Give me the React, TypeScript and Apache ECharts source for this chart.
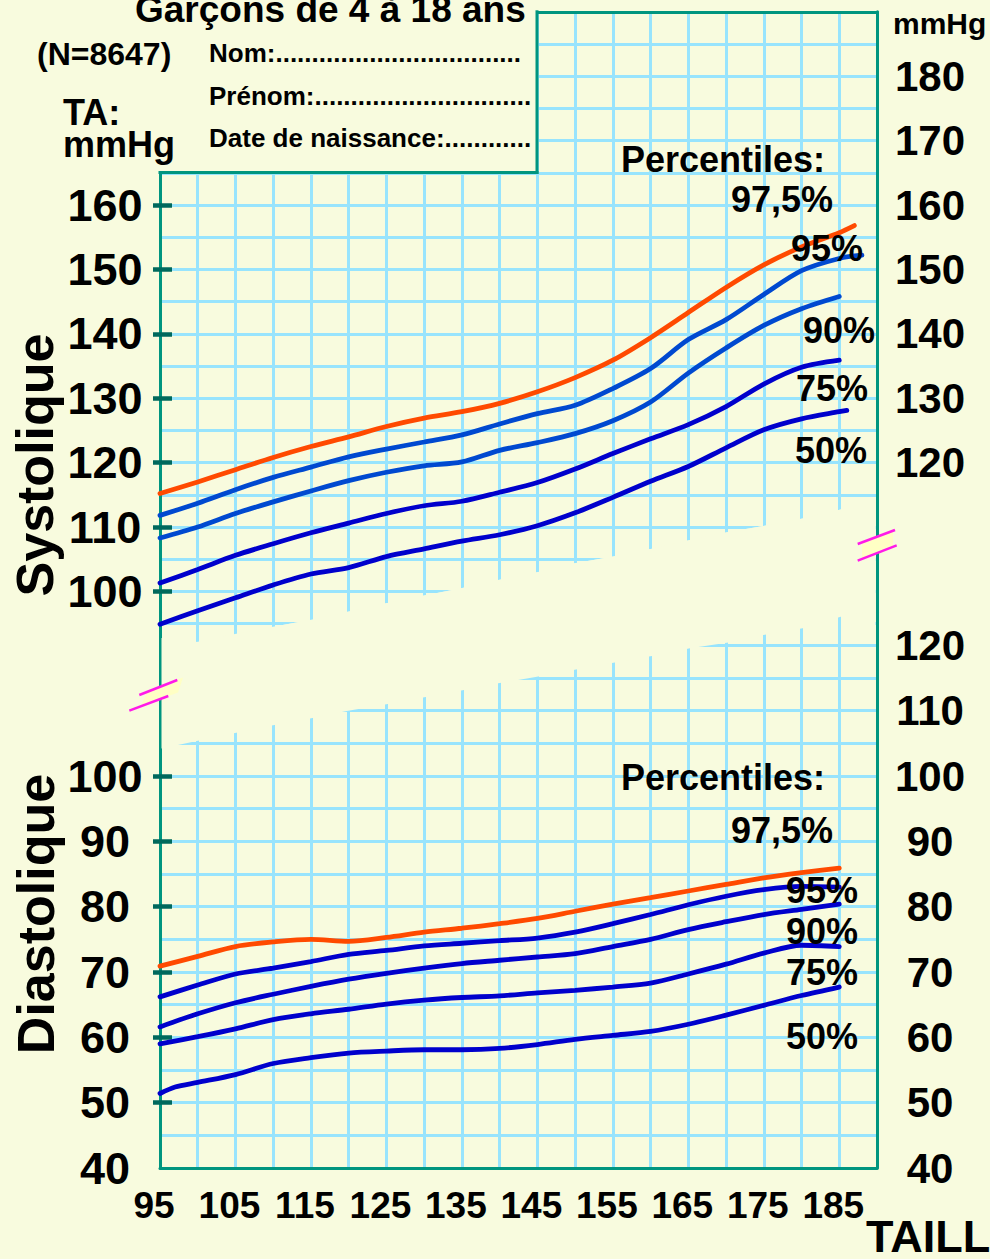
import React, { useEffect, useRef } from "react";
import * as echarts from "echarts";

const BG = "#F8FBDE";
const GRIDLINE = "#98E4FD";
const BORDER = "#00957F";
const TICK = "#00695C";
const ORANGE = "#FF4A00";
const MIDBLUE = "#0049D0";
const DARKBLUE = "#0000CC";
const MAGENTA = "#FF1AE8";
const PATCH = "#FFFFC4";
const FONT = '"Liberation Sans", Arial, Helvetica, sans-serif';

// Height (cm) grid for the curves
const heightsCm = [95, 100, 105, 110, 115, 120, 125, 130, 135, 140, 145, 150, 155, 160, 165, 170, 175, 180, 185];

// Systolic percentiles (mmHg)
const sysP975H = [...heightsCm, 187];
const sysP975 = [115.2, 117.0, 118.9, 120.8, 122.5, 124.0, 125.6, 126.9, 127.9, 129.2, 131.0, 133.2, 135.9, 139.4, 143.3, 147.2, 150.7, 153.5, 155.7, 156.8];
const sysP95H = [...heightsCm, 188];
const sysP95 = [111.8, 113.7, 115.8, 117.7, 119.3, 120.9, 122.1, 123.2, 124.3, 126.0, 127.6, 128.9, 131.5, 134.6, 139.1, 142.2, 146.1, 149.8, 151.7, 152.2];
const sysP90H = heightsCm;
const sysP90 = [108.3, 110.0, 112.1, 113.9, 115.6, 117.2, 118.5, 119.5, 120.1, 121.9, 123.1, 124.5, 126.5, 129.4, 133.9, 137.8, 141.3, 143.9, 145.8];
const sysP75H = heightsCm;
const sysP75 = [101.3, 103.4, 105.6, 107.4, 109.1, 110.6, 112.1, 113.3, 114.0, 115.4, 116.9, 119.0, 121.4, 123.7, 125.9, 128.7, 132.2, 134.8, 135.9];
const sysP50H = [...heightsCm, 186];
const sysP50 = [94.9, 97.0, 99.0, 101.0, 102.7, 103.7, 105.4, 106.6, 107.8, 108.8, 110.2, 112.2, 114.6, 117.1, 119.4, 122.3, 125.1, 126.8, 127.9, 128.1];

// Diastolic percentiles (mmHg)
const diaP975H = heightsCm;
const diaP975 = [70.9, 72.4, 73.9, 74.6, 75.0, 74.7, 75.3, 76.1, 76.7, 77.4, 78.2, 79.3, 80.4, 81.4, 82.4, 83.4, 84.4, 85.2, 85.9];
const diaP95H = heightsCm;
const diaP95 = [66.2, 68.0, 69.7, 70.6, 71.6, 72.7, 73.3, 74.0, 74.4, 74.8, 75.2, 76.1, 77.4, 78.8, 80.3, 81.6, 82.6, 83.1, 83.0];
const diaP90H = heightsCm;
const diaP90 = [61.6, 63.6, 65.3, 66.6, 67.8, 68.9, 69.8, 70.6, 71.3, 71.8, 72.3, 72.8, 73.9, 75.0, 76.5, 77.7, 78.8, 79.6, 80.4];
const diaP75H = heightsCm;
const diaP75 = [59.0, 60.1, 61.3, 62.7, 63.6, 64.3, 65.1, 65.7, 66.1, 66.35, 66.8, 67.2, 67.7, 68.3, 69.7, 71.2, 72.9, 74.1, 73.9];
const diaP50H = [95, 97, 100, 105, 110, 115, 120, 125, 130, 135, 140, 145, 150, 155, 160, 165, 170, 175, 180, 185];
const diaP50 = [51.4, 52.4, 53.1, 54.3, 56.0, 56.9, 57.6, 57.9, 58.1, 58.1, 58.3, 58.9, 59.7, 60.3, 60.9, 62.0, 63.4, 64.9, 66.4, 67.7];

// Tick labels
const xTickLabels = [95, 105, 115, 125, 135, 145, 155, 165, 175, 185];
const sysLeftLabels = [100, 110, 120, 130, 140, 150, 160];
const sysRightLabels = [120, 130, 140, 150, 160, 170, 180];
const diaLeftLabels = [40, 50, 60, 70, 80, 90, 100];
const diaRightLabels = [40, 50, 60, 70, 80, 90, 100, 110, 120];
const sysTicks = [100, 110, 120, 130, 140, 150, 160];
const diaTicks = [50, 60, 70, 80, 90, 100];

const percentileNames = ["97,5%", "95%", "90%", "75%", "50%"];

const zip = (h: number[], v: number[]) => h.map((x, i) => [x, v[i]]);

// Decoration geometry of the torn gap between the two panels (pixels)
const upperEdge = [
  [161.5, 638], [190, 638], [196.7, 642], [235, 634], [271.7, 627], [310, 620], [346.7, 612],
  [385, 603.5], [421.7, 596], [460, 588.5], [498.3, 580], [538.3, 572], [573.3, 563.5],
  [613.3, 556.5], [653.3, 548.5], [690, 540], [728.3, 532], [763.3, 526], [802.7, 518.5],
  [840.7, 509.5], [875.5, 502.3],
];
const lowerEdge = [
  [161.5, 748.5], [196.7, 741], [235, 733], [271.7, 725.5], [310, 718.5], [346.7, 711],
  [385, 704.5], [421.7, 697.7], [460, 690.7], [498.3, 683.3], [538.3, 676.5], [573.3, 670],
  [613.3, 662.7], [653.3, 655.7], [690, 648.3], [728.3, 642.5], [763.3, 635], [802.7, 628.3],
  [840.7, 616.7], [875.5, 610.3],
];

function txt(text: string, x: number, y: number, size: number, align = "left", extra: any = {}) {
  return {
    type: "text",
    x,
    y,
    z: 21,
    silent: true,
    ...extra,
    style: {
      text,
      fill: "#000",
      fontSize: size,
      fontWeight: "bold",
      fontFamily: FONT,
      textAlign: align,
      textVerticalAlign: "middle",
    },
  };
}

export default function App() {
  const ref = useRef<HTMLDivElement>(null);

  useEffect(() => {
    if (!ref.current) return;
    const chart = echarts.init(ref.current, undefined, { renderer: "svg" });

    const labelStyle = (size: number) => ({
      fontSize: size,
      fontWeight: "bold",
      fontFamily: FONT,
      color: "#000",
    });

    const lineSeries = (h: number[], v: number[], color: string, xi: number, yi: number) => ({
      type: "line",
      xAxisIndex: xi,
      yAxisIndex: yi,
      data: zip(h, v),
      showSymbol: false,
      smooth: 0.3,
      silent: true,
      z: 10,
      lineStyle: { color, width: 4.8, cap: "round" },
    });

    const splitLine = {
      show: true,
      showMinLine: false,
      showMaxLine: false,
      lineStyle: { color: GRIDLINE, width: 3 },
    };

    const tickAxis = (gridIndex: number, min: number, max: number, ticks: number[], inside: boolean, z: number) => ({
      type: "value", gridIndex, position: "left", min, max, interval: 5, z,
      axisLine: { show: false }, splitLine: { show: false }, axisLabel: { show: false },
      axisTick: { show: true, customValues: ticks, inside, length: inside ? 12 : 7, lineStyle: { color: TICK, width: 4.5 } },
    });

    const gapPolygon = [...upperEdge, ...lowerEdge.slice().reverse()];
    const mask1 = [...upperEdge, [875.5, 664], [161.5, 664]];

    const graphic: any[] = [
      // masks for the torn gap
      { type: "polygon", z: 1, silent: true, shape: { points: mask1 }, style: { fill: BG } },
      { type: "polygon", z: 3, silent: true, shape: { points: gapPolygon }, style: { fill: BG } },
      // header box
      { type: "rect", z: 20, silent: true, shape: { x: 148, y: 0, width: 388, height: 171 }, style: { fill: BG } },
      { type: "line", z: 21, silent: true, shape: { x1: 158.5, y1: 172.5, x2: 538.5, y2: 172.5 }, style: { stroke: BORDER, lineWidth: 3 } },
      { type: "line", z: 21, silent: true, shape: { x1: 537, y1: 10.3, x2: 537, y2: 174 }, style: { stroke: BORDER, lineWidth: 3 } },
      // break marks
      { type: "polygon", z: 22, silent: true, shape: { points: [[147, 692], [183, 677.5], [178, 692.4], [141, 706.3]] }, style: { fill: PATCH } },
      { type: "line", z: 23, silent: true, shape: { x1: 139.3, y1: 695, x2: 177.3, y2: 680 }, style: { stroke: MAGENTA, lineWidth: 2.5 } },
      { type: "line", z: 23, silent: true, shape: { x1: 129.3, y1: 710.7, x2: 168.3, y2: 696 }, style: { stroke: MAGENTA, lineWidth: 2.5 } },
      { type: "polygon", z: 22, silent: true, shape: { points: [[862, 542.4], [893, 530.8], [893, 546.8], [862, 559]] }, style: { fill: PATCH } },
      { type: "line", z: 23, silent: true, shape: { x1: 857.7, y1: 544, x2: 895, y2: 530 }, style: { stroke: MAGENTA, lineWidth: 2.5 } },
      { type: "line", z: 23, silent: true, shape: { x1: 857.7, y1: 560.7, x2: 896.7, y2: 545.3 }, style: { stroke: MAGENTA, lineWidth: 2.5 } },
      // header texts
      txt("Garçons de 4 à 18 ans", 135, 9, 37),
      txt("(N=8647)", 37, 54, 32),
      txt("TA:", 63, 112, 36),
      txt("mmHg", 63, 144, 36),
      txt("Nom:" + ".".repeat(34), 209, 53, 26),
      txt("Prénom:" + ".".repeat(30), 209, 96, 26),
      txt("Date de naissance:" + ".".repeat(12), 209, 138, 26),
      txt("mmHg", 893, 23, 30),
      // percentile annotations, systolic
      txt("Percentiles:", 621, 159, 36),
      txt(percentileNames[0], 833, 199, 36, "right"),
      txt(percentileNames[1], 791, 248, 36),
      txt(percentileNames[2], 803, 330, 36),
      txt(percentileNames[3], 796, 388, 36),
      txt(percentileNames[4], 795, 450, 36),
      // percentile annotations, diastolic
      txt("Percentiles:", 621, 777, 36),
      txt(percentileNames[0], 833, 830, 36, "right"),
      txt(percentileNames[1], 786, 890, 36),
      txt(percentileNames[2], 786, 931, 36),
      txt(percentileNames[3], 786, 972, 36),
      txt(percentileNames[4], 786, 1036, 36),
      // axis titles
      txt("TAILLE (cm)", 866, 1236, 45),
      txt("Systolique", 35, 465, 52, "center", { rotation: Math.PI / 2 }),
      txt("Diastolique", 36, 914, 52, "center", { rotation: Math.PI / 2 }),
    ];

    const option: any = {
      animation: false,
      backgroundColor: BG,
      grid: [
        { left: 160, top: 11.8, width: 717, height: 644, outerBoundsMode: "none", containLabel: false },
        { left: 160, top: 612.7, width: 717, height: 555.3, outerBoundsMode: "none", containLabel: false },
      ],
      xAxis: [
        {
          type: "value", gridIndex: 0, position: "top", min: 95, max: 190, interval: 5, z: 0,
          axisLine: { show: true, lineStyle: { color: BORDER, width: 3 } },
          axisTick: { show: false }, axisLabel: { show: false }, splitLine,
        },
        {
          type: "value", gridIndex: 1, position: "bottom", min: 95, max: 190, interval: 5, z: 2,
          axisLine: { show: true, lineStyle: { color: BORDER, width: 3 } },
          axisTick: { show: false },
          axisLabel: {
            customValues: xTickLabels,
            margin: 37,
            verticalAlign: "middle",
            ...labelStyle(37),
            formatter: (v: number) => `{a|${v}}`,
            rich: { a: { ...labelStyle(37), padding: [0, 12, 0, 0] } },
          },
          splitLine,
        },
      ],
      yAxis: [
        {
          type: "value", gridIndex: 0, position: "left", min: 90, max: 190, interval: 5, z: 0,
          axisLine: { show: true, lineStyle: { color: BORDER, width: 3 } },
          axisTick: { show: false },
          axisLabel: { customValues: sysLeftLabels, margin: 55, align: "center", ...labelStyle(45) },
          splitLine,
        },
        tickAxis(0, 90, 190, sysTicks, true, 0),
        tickAxis(0, 90, 190, sysTicks, false, 0),
        {
          type: "value", gridIndex: 0, position: "right", min: 90, max: 190, interval: 5, z: 0,
          axisLine: { show: true, lineStyle: { color: BORDER, width: 3 } },
          axisTick: { show: false }, splitLine: { show: false },
          axisLabel: { customValues: sysRightLabels, margin: 53, align: "center", ...labelStyle(42) },
        },
        {
          type: "value", gridIndex: 1, position: "left", min: 40, max: 125, interval: 5, z: 2,
          axisLine: { show: true, lineStyle: { color: BORDER, width: 3 } },
          axisTick: { show: false },
          axisLabel: { customValues: diaLeftLabels, margin: 55, align: "center", ...labelStyle(45) },
          splitLine,
        },
        tickAxis(1, 40, 125, diaTicks, true, 2),
        tickAxis(1, 40, 125, diaTicks, false, 2),
        {
          type: "value", gridIndex: 1, position: "right", min: 40, max: 125, interval: 5, z: 2,
          axisLine: { show: true, lineStyle: { color: BORDER, width: 3 } },
          axisTick: { show: false }, splitLine: { show: false },
          axisLabel: { customValues: diaRightLabels, margin: 53, align: "center", ...labelStyle(42) },
        },
      ],
      series: [
        lineSeries(sysP50H, sysP50, DARKBLUE, 0, 0),
        lineSeries(sysP75H, sysP75, DARKBLUE, 0, 0),
        lineSeries(sysP90H, sysP90, MIDBLUE, 0, 0),
        lineSeries(sysP95H, sysP95, MIDBLUE, 0, 0),
        lineSeries(sysP975H, sysP975, ORANGE, 0, 0),
        lineSeries(diaP50H, diaP50, DARKBLUE, 1, 4),
        lineSeries(diaP75H, diaP75, DARKBLUE, 1, 4),
        lineSeries(diaP90H, diaP90, DARKBLUE, 1, 4),
        lineSeries(diaP95H, diaP95, DARKBLUE, 1, 4),
        lineSeries(diaP975H, diaP975, ORANGE, 1, 4),
      ],
      graphic: { elements: graphic },
    };

    chart.setOption(option);
    return () => chart.dispose();
  }, []);

  return (
    <div
      ref={ref}
      style={{ position: "fixed", left: 0, top: 0, width: 990, height: 1259, background: BG }}
    />
  );
}
